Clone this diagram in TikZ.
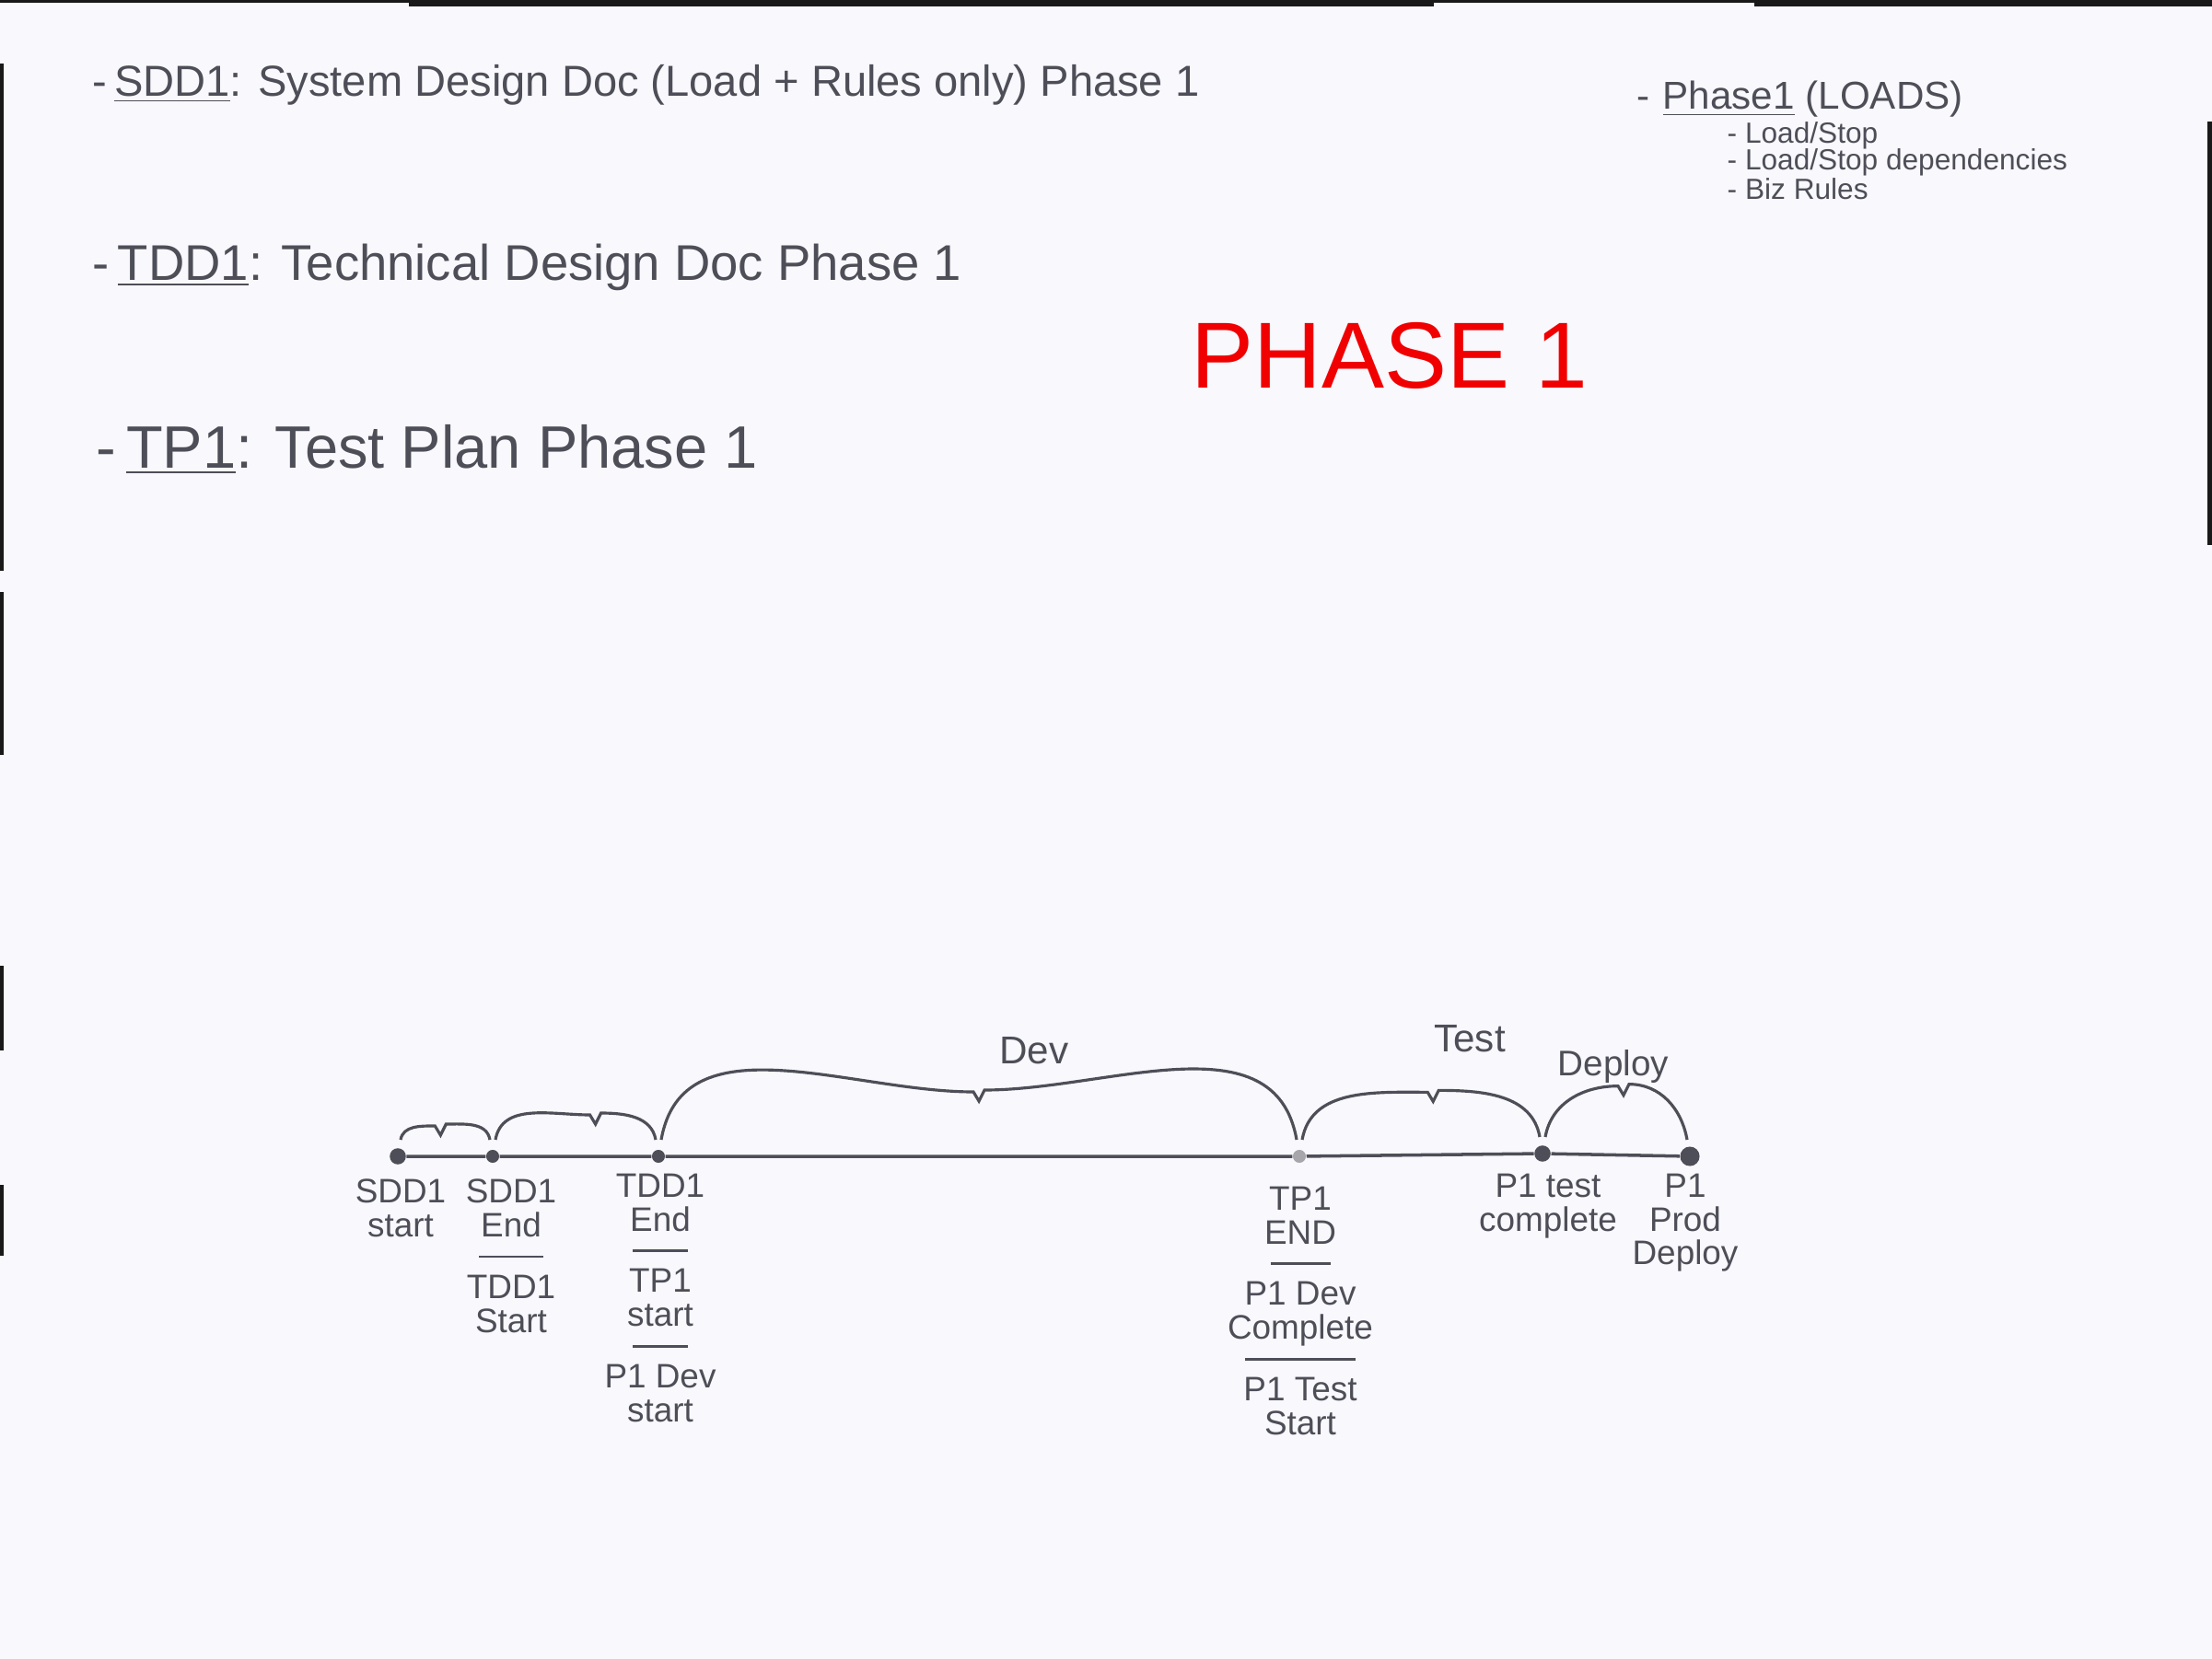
\documentclass[tikz,border=0pt]{standalone}
\usepackage{fontspec}
\setmainfont{Liberation Sans}
\usetikzlibrary{positioning,calc}
\definecolor{pencil}{RGB}{78,78,88}
\definecolor{paper}{RGB}{248,248,253}
\definecolor{phasered}{RGB}{240,0,0}

\newcommand{\phasespan}[4]{%
  \draw[spanline] ($(#1)+(0.03,0.18)$) to[out=80,in=180] ($(#1)!#4!(#2)+(-0.06,#3)$)
    -- ++(0.06,-0.1) -- ++(0.06,0.12) to[out=0,in=100] ($(#2)+(-0.03,0.18)$);}

\begin{document}
\begin{tikzpicture}[
        note/.style={text=pencil, anchor=west, inner sep=0pt},
        item/.style={text=pencil, anchor=west, inner sep=0pt, font=\fontsize{9}{10}\selectfont},
        mile/.style={circle, fill=pencil, inner sep=0pt, minimum size=5pt},
        tag/.style={text=pencil, anchor=north, align=center, inner sep=0pt, font=\fontsize{10.5}{10.5}\selectfont},
        spanline/.style={draw=pencil, line width=0.9pt},
        timeline/.style={draw=pencil, line width=1pt},
        scanedge/.style={fill=black!90}
    ]
\fill[paper] (0,0) rectangle (24.02,-18.02);
\useasboundingbox (0,0) rectangle (24.02,-18.02);

% scanner edges
\fill[scanedge] (0,0) rectangle (24.02,-0.03);
\fill[scanedge] (4.44,0) rectangle (15.57,-0.07);
\fill[scanedge] (19.05,0) rectangle (24.02,-0.07);
\fill[scanedge] (0,-0.69) rectangle (0.04,-6.2);
\fill[scanedge] (0,-6.43) rectangle (0.04,-8.2);
\fill[scanedge] (0,-10.49) rectangle (0.04,-11.41);
\fill[scanedge] (0,-12.87) rectangle (0.04,-13.64);
\fill[scanedge] (23.97,-1.32) rectangle (24.02,-5.92);

% deliverables
\node[note, font=\fontsize{13.4}{15}\selectfont] (sdd) at (1.0,-0.92) {-\,\underline{SDD1}: System Design Doc (Load + Rules only) Phase 1};
\node[note, font=\fontsize{15.5}{17}\selectfont] (tdd) at (1.0,-2.9) {-\,\underline{TDD1}: Technical Design Doc Phase 1};
\node[note, font=\fontsize{18.5}{20}\selectfont] (tp) at (1.04,-4.88) {-\,\underline{TP1}: Test Plan Phase 1};

% scope
\node[item, font=\fontsize{12}{13}\selectfont] (scope) at (17.77,-1.08) {-\,\,\underline{Phase1} (LOADS)};
\node[item] (load) at (18.75,-1.47) {- Load/Stop};
\node[item] (deps) at (18.75,-1.76) {- Load/Stop dependencies};
\node[item] (biz) at (18.75,-2.05) {- Biz Rules};

\node[text=phasered, font=\fontsize{29}{31}\selectfont] (title) at (15.09,-3.86) {PHASE 1};

% timeline
\node[mile] (m1) at (4.32,-12.56) {};
\node[mile, minimum size=4pt] (m2) at (5.35,-12.56) {};
\node[mile, minimum size=4pt] (m3) at (7.15,-12.56) {};
\node[mile, minimum size=4pt, fill=pencil!50] (m4) at (14.11,-12.56) {};
\node[mile] (m5) at (16.75,-12.53) {};
\node[mile, minimum size=6pt] (m6) at (18.35,-12.56) {};
\draw[timeline] (m1) -- (m2) -- (m3) -- (m4) -- (m5) -- (m6);

\phasespan{m1}{m2}{0.33}{0.45}
\phasespan{m2}{m3}{0.45}{0.62}
\phasespan{m3}{m4}{0.7}{0.5}
\phasespan{m4}{m5}{0.68}{0.55}
\phasespan{m5}{m6}{0.75}{0.55}

\node[text=pencil, font=\fontsize{12}{13}\selectfont] (dev) at (11.23,-11.41) {Dev};
\node[text=pencil, font=\fontsize{12}{13}\selectfont] (test) at (15.96,-11.28) {Test};
\node[text=pencil, font=\fontsize{11}{12}\selectfont] (deploy) at (17.52,-11.58) {Deploy};

% milestone tags
\node[tag] (t1) at (4.35,-12.8) {SDD1\\start};
\node[tag] (t2) at (5.55,-12.8) {SDD1\\End\\[-4pt]\rule{0.7cm}{0.7pt}\\[2pt]TDD1\\Start};
\node[tag] (t3) at (7.17,-12.74) {TDD1\\End\\[-4pt]\rule{0.6cm}{0.7pt}\\[2pt]TP1\\start\\[-4pt]\rule{0.6cm}{0.7pt}\\[2pt]P1 Dev\\start};
\node[tag] (t4) at (14.12,-12.88) {TP1\\END\\[-4pt]\rule{0.65cm}{0.7pt}\\[2pt]P1 Dev\\Complete\\[-4pt]\rule{1.2cm}{0.7pt}\\[2pt]P1 Test\\Start};
\node[tag] (t5) at (16.81,-12.74) {P1 test\\complete};
\node[tag] (t6) at (18.3,-12.74) {P1\\Prod\\Deploy};

\end{tikzpicture}
\end{document}
